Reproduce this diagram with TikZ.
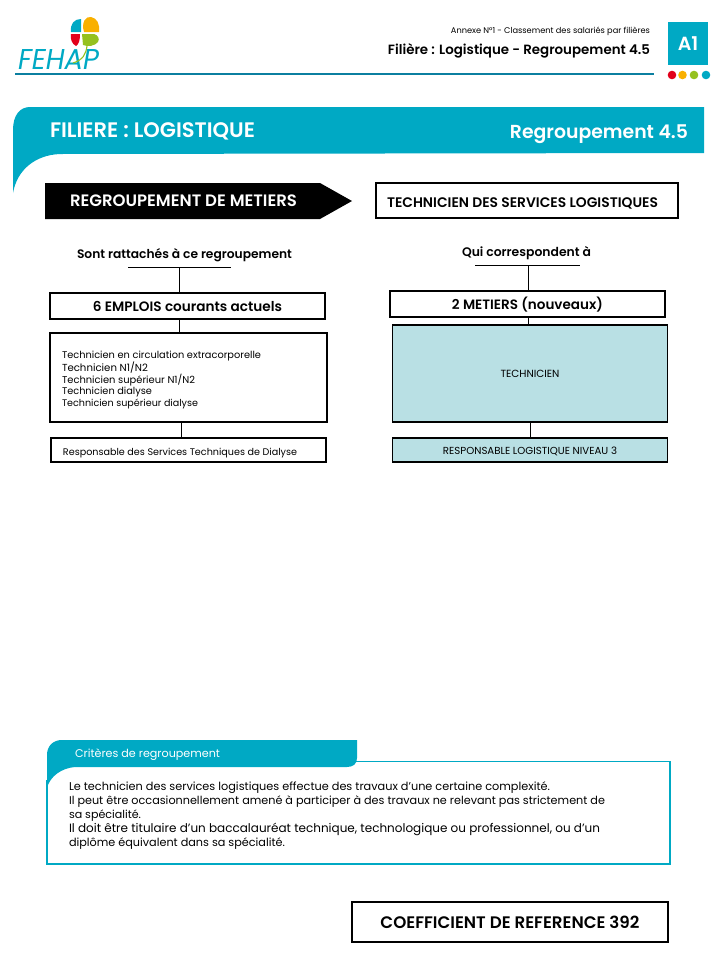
\documentclass[tikz,border=0pt]{standalone}
\usepackage{fontspec}
\usepackage{graphicx}
\setmainfont{Poppins}[BoldFont={Poppins SemiBold}]
\definecolor{teal1}{HTML}{00A9C4}
\definecolor{teal2}{HTML}{0B7FA0}
\definecolor{pale}{HTML}{B9E0E4}
\definecolor{lred}{HTML}{E2001A}
\definecolor{lyel}{HTML}{F9B000}
\definecolor{lgre}{HTML}{95C11F}
\newcommand{\fw}[2]{\raisebox{-2pt}[\height][\depth]{\resizebox{#1pt}{!}{\strut #2}}}
\tikzset{
  txt/.style={inner sep=0pt,outer sep=0pt,text=black,font=\fontsize{12}{12}\selectfont},
  boxa/.style={draw=black,line width=1.2pt,inner sep=0pt,outer sep=0pt},
  link/.style={draw=black,line width=1pt},
  rulea/.style={draw=black,line width=0.9pt},
  tealfill/.style={fill=teal1,draw=none}
}
\begin{document}
\begin{tikzpicture}[x=1pt,y=-1pt]
\useasboundingbox (0,0) rectangle (720,959);
% logo
\fill[teal1] (81,19) .. controls (74,19) and (70,24) .. (71,32) -- (81,32) -- cycle;
\fill[lyel] (84,32) .. controls (81,22) and (86,16) .. (91,17) .. controls (97,18) and (100,24) .. (99,32) -- cycle;
\fill[lred] (71,34) -- (80,34) .. controls (80,40) and (79,44) .. (76,46) .. controls (72,44) and (70,39) .. (71,34) -- cycle;
\fill[lgre] (82,34) -- (94,34) .. controls (98,35) and (100,39) .. (98,42) .. controls (95,46) and (88,47) .. (83,45) -- cycle;
\node[txt,anchor=west,text=teal1] (logotext) at (18,59) {\resizebox{81pt}{20pt}{\itshape FEHAP}};
\draw[lgre,line width=1.1pt] (87,46) .. controls (86,54) and (83,60) .. (73,63);
% header
\node[txt,anchor=east] (annex) at (650,30) {\fw{199}{Annexe N°1 - Classement des salariés par filières}};
\node[txt,anchor=east] (filiere) at (650,49) {\fw{262}{\bfseries Filière : Logistique - Regroupement 4.5}};
\node[tealfill,minimum width=40pt,minimum height=43pt,inner sep=0pt] (a1) at (688,43.5) {\textcolor{white}{\fontsize{19}{19}\selectfont\bfseries A1}};
\fill[lred] (672,75) circle (4.3);
\fill[lyel] (682.5,75) circle (4.3);
\fill[lgre] (694,75) circle (4.3);
\fill[teal1] (706,75) circle (4.3);
\draw[teal2,line width=1.1pt] (15,74) -- (654,74);
% banner
\fill[teal1] (30,107) -- (704,107) -- (704,153) -- (60,154) .. controls (35,155) and (17,170) .. (13,193) -- (13,130) .. controls (13,115) and (20,107) .. (30,107) -- cycle;
\node[txt,anchor=west,text=white] (bt1) at (50,131) {\fw{205}{\bfseries FILIERE : LOGISTIQUE}};
\node[txt,anchor=east,text=white] (bt2) at (688,132) {\fw{178}{\bfseries Regroupement 4.5}};
% left column
\fill[black] (45,183) -- (320,183) -- (352,201) -- (320,219) -- (45,219) -- cycle;
\node[txt,anchor=west,text=white] (reg) at (70,201) {\fw{227}{\bfseries REGROUPEMENT DE METIERS}};
\node[boxa,line width=2.6pt,minimum width=302pt,minimum height=35pt] (techbox) at (527,200.5) {};
\node[txt,anchor=west] (techt) at (387,203) {\fw{271}{\bfseries TECHNICIEN DES SERVICES LOGISTIQUES}};

\node[txt,anchor=west] (sont) at (77,253) {\fw{215}{\bfseries Sont rattachés à ce regroupement}};
\coordinate (lr1) at (128,267);
\coordinate (lr2) at (231,267);
\coordinate (lrm) at (179,267);
\draw[rulea] (lr1) -- (lr2);
\node[boxa,minimum width=275pt,minimum height=26pt] (emp) at (187.5,306) {\fw{189}{\bfseries 6 EMPLOIS courants actuels}};
\draw[link] (lrm) -- (lrm |- emp.north);
\node[boxa,minimum width=277pt,minimum height=89pt] (list) at (188.5,377.5) {};
\draw[link] (lrm |- emp.south) -- (lrm |- list.north);
\node[txt,anchor=west] (l1) at (62,354) {\fw{199}{Technicien en circulation extracorporelle}};
\node[txt,anchor=west] (l2) at (62,366) {\fw{86}{Technicien N1/N2}};
\node[txt,anchor=west] (l3) at (62,378) {\fw{133}{Technicien supérieur N1/N2}};
\node[txt,anchor=west] (l4) at (62,390) {\fw{90}{Technicien dialyse}};
\node[txt,anchor=west] (l5) at (62,402) {\fw{136}{Technicien supérieur dialyse}};
\node[boxa,minimum width=275pt,minimum height=24pt] (resp) at (188.5,450) {};
\node[txt,anchor=west] (respt) at (63,451) {\fw{234}{Responsable des Services Techniques de Dialyse}};
\coordinate (lm2) at (181,430);
\draw[link] (lm2 |- list.south) -- (lm2 |- resp.north);
% right column
\node[txt,anchor=west] (qui) at (462,251) {\fw{129}{\bfseries Qui correspondent à}};
\coordinate (rr1) at (475,265);
\coordinate (rr2) at (580,265);
\coordinate (rrm) at (528,265);
\draw[rulea] (rr1) -- (rr2);
\node[boxa,minimum width=275pt,minimum height=26pt] (met) at (527.5,304) {\fw{151}{\bfseries 2 METIERS (nouveaux)}};
\draw[link] (rrm) -- (rrm |- met.north);
\node[boxa,fill=pale,minimum width=275pt,minimum height=97pt] (tech) at (530,373.5) {\fw{59}{TECHNICIEN}};
\draw[link] (rrm |- met.south) -- (rrm |- tech.north);
\node[boxa,fill=pale,minimum width=275pt,minimum height=24pt] (rl) at (530,450) {\fw{174}{RESPONSABLE LOGISTIQUE NIVEAU 3}};
\coordinate (rm2) at (530,430);
\draw[link] (rm2 |- tech.south) -- (rm2 |- rl.north);
% criteria
\draw[teal1,line width=1.3pt] (352,761.5) -- (670,761.5) -- (670,864) -- (47,864) -- (47,780);
\fill[teal1] (62,740) -- (357,740) -- (357,758) .. controls (357,764) and (353,767) .. (347,767) -- (75,767) .. controls (62,768) and (50,776) .. (47,788) -- (47,755) .. controls (47,746) and (53,740) .. (62,740) -- cycle;
\node[txt,anchor=west,text=white] (crit) at (75,753) {\fw{145}{Critères de regroupement}};
\node[txt,anchor=west] (c1) at (69,786) {\fw{481}{Le technicien des services logistiques effectue des travaux d’une certaine complexité.}};
\node[txt,anchor=west] (c2) at (69,800) {\fw{536}{Il peut être occasionnellement amené à participer à des travaux ne relevant pas strictement de}};
\node[txt,anchor=west] (c3) at (69,814) {\fw{72}{sa spécialité.}};
\node[txt,anchor=west] (c4) at (69,828) {\fw{531}{Il doit être titulaire d’un baccalauréat technique, technologique ou professionnel, ou d’un}};
\node[txt,anchor=west] (c5) at (69,842) {\fw{216}{diplôme équivalent dans sa spécialité.}};
\node[boxa,line width=1.6pt,minimum width=316pt,minimum height=40pt] (coef) at (510,922) {\fw{259}{\bfseries COEFFICIENT DE REFERENCE 392}};
\end{tikzpicture}
\end{document}
